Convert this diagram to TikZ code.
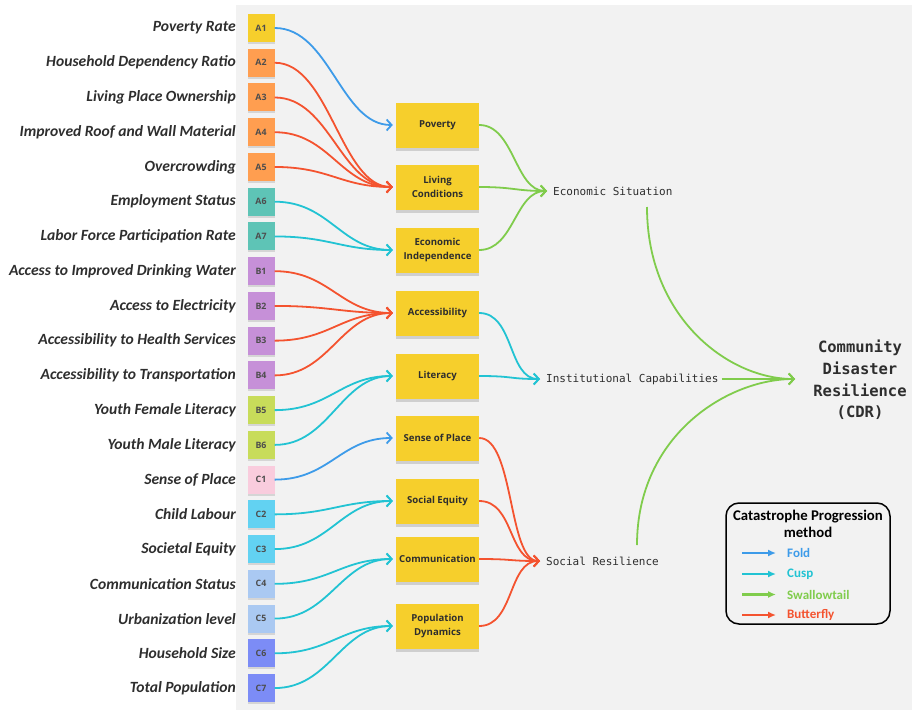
\documentclass[tikz,border=0pt]{standalone}
\usepackage{fontspec}
\setmainfont{Carlito}
\newfontfamily\boxfont{Open Sans}
\newfontfamily\aggfont{DejaVu Sans Mono}
\usetikzlibrary{arrows.meta,shadows,calc}
\definecolor{panel}{HTML}{F2F2F2}
\definecolor{cfold}{HTML}{3D9BE9}
\definecolor{ccusp}{HTML}{22C3D3}
\definecolor{cswal}{HTML}{80CC4C}
\definecolor{cbutt}{HTML}{F4532F}
\definecolor{yel}{HTML}{F6CF2C}
\definecolor{ora}{HTML}{FF9E50}
\definecolor{tea}{HTML}{5EC4B6}
\definecolor{pur}{HTML}{C690D8}
\definecolor{lim}{HTML}{C8DC5A}
\definecolor{pnk}{HTML}{F9CCDD}
\definecolor{cya}{HTML}{62D2F2}
\definecolor{pbl}{HTML}{AAC9F2}
\definecolor{vio}{HTML}{7C8CF6}
\definecolor{txt}{HTML}{2E2E2E}
\begin{document}
\begin{tikzpicture}[x=1pt,y=-1pt,
  lab/.style={anchor=east,inner sep=0pt,font=\fontsize{15.6}{17}\selectfont\bfseries\itshape,text=txt},
  sbox/.style={minimum width=27pt,minimum height=28pt,inner sep=0pt,font=\boxfont\fontsize{8.8}{10}\selectfont\bfseries,text=txt!85,
    drop shadow={shadow xshift=0pt,shadow yshift=-2pt,opacity=.25}},
  mbox/.style={fill=yel,minimum width=83pt,minimum height=45pt,inner sep=1pt,align=center,
    font=\boxfont\fontsize{9.6}{13.5}\selectfont\bfseries,text=txt,
    drop shadow={shadow xshift=0pt,shadow yshift=-3pt,opacity=.3}},
  agg/.style={anchor=west,inner sep=3pt,font=\aggfont\fontsize{11}{13}\selectfont,text=txt},
  link/.style={line width=1.8pt,-{Straight Barb[length=5pt,width=11pt]},shorten >=3pt},
  legarrow/.style={line width=2.4pt,-{Latex[length=8pt,width=7pt]}},
  legtxt/.style={anchor=west,inner sep=0pt,font=\fontsize{13}{15}\selectfont\bfseries}
]
\useasboundingbox (0,0) rectangle (914,710);
\fill[panel] (236,5) rectangle (912,710);

% left items
\foreach \n/\t/\c [count=\i] in {
  a1/Poverty Rate/yel, a2/Household Dependency Ratio/ora, a3/Living Place Ownership/ora,
  a4/Improved Roof and Wall Material/ora, a5/Overcrowding/ora, a6/Employment Status/tea,
  a7/Labor Force Participation Rate/tea, b1/Access to Improved Drinking Water/pur,
  b2/Access to Electricity/pur, b3/Accessibility to Health Services/pur,
  b4/Accessibility to Transportation/pur, b5/Youth Female Literacy/lim,
  b6/Youth Male Literacy/lim, c1/Sense of Place/pnk, c2/Child Labour/cya,
  c3/Societal Equity/cya, c4/Communication Status/pbl, c5/Urbanization level/pbl,
  c6/Household Size/vio, c7/Total Population/vio}{
  \pgfmathsetmacro\yy{28+(\i-1)*34.74}
  \node[lab] (l\n) at (236,\yy) {\t};
  \node[sbox,fill=\c] (\n) at (261,\yy) {\MakeUppercase{\n}};
}

% middle boxes
\node[mbox] (pov) at (437.5,125) {Poverty};
\node[mbox] (liv) at (437.5,187) {Living\\Conditions};
\node[mbox] (eco) at (437.5,250) {Economic\\Independence};
\node[mbox] (acc) at (437.5,313) {Accessibility};
\node[mbox] (lit) at (437.5,376) {Literacy};
\node[mbox] (sop) at (437.5,438) {Sense of Place};
\node[mbox] (seq) at (437.5,501) {Social Equity};
\node[mbox] (com) at (437.5,559) {Communication};
\node[mbox] (pop) at (437.5,626) {Population\\Dynamics};

% aggregators
\node[agg] (es) at (550,191) {Economic Situation};
\node[agg] (ic) at (543,379) {Institutional Capabilities};
\node[agg] (sr) at (543,561) {Social Resilience};
\node[align=center,inner sep=0pt,text=txt,font=\aggfont\fontsize{15.5}{21.7}\selectfont\bfseries] (cdr) at (860,380)
  {Community\\Disaster\\Resilience\\(CDR)};
\coordinate (cdrin) at (798,379);
\coordinate (esout) at (647,207);
\coordinate (srout) at (637,545);

% left -> middle
\def\lk#1#2#3{\draw[link,#1] (#2.east) .. controls +(55,0) and +(-55,0) .. (#3.west);}
\lk{cfold}{a1}{pov}
\lk{cbutt}{a2}{liv}\lk{cbutt}{a3}{liv}\lk{cbutt}{a4}{liv}\lk{cbutt}{a5}{liv}
\lk{ccusp}{a6}{eco}\lk{ccusp}{a7}{eco}
\lk{cbutt}{b1}{acc}\lk{cbutt}{b2}{acc}\lk{cbutt}{b3}{acc}\lk{cbutt}{b4}{acc}
\lk{ccusp}{b5}{lit}\lk{ccusp}{b6}{lit}
\lk{cfold}{c1}{sop}
\lk{ccusp}{c2}{seq}\lk{ccusp}{c3}{seq}
\lk{ccusp}{c4}{com}\lk{ccusp}{c5}{com}
\lk{ccusp}{c6}{pop}\lk{ccusp}{c7}{pop}

% middle -> aggregators
\def\mk#1#2#3{\draw[link,#1] (#2.east) .. controls +(35,0) and +(-35,0) .. (#3.west);}
\mk{cswal}{pov}{es}\mk{cswal}{liv}{es}\mk{cswal}{eco}{es}
\mk{ccusp}{acc}{ic}\mk{ccusp}{lit}{ic}
\mk{cbutt}{sop}{sr}\mk{cbutt}{seq}{sr}\mk{cbutt}{com}{sr}\mk{cbutt}{pop}{sr}

% aggregators -> CDR
\draw[link,cswal] (esout) .. controls +(0,110) and +(-70,0) .. (cdrin);
\draw[link,cswal] (ic.east) -- (cdrin);
\draw[link,cswal] (srout) .. controls +(0,-110) and +(-70,0) .. (cdrin);

% legend
\node[draw=black,line width=1.5pt,rounded corners=13pt,minimum width=164pt,minimum height=121pt,inner sep=0pt] (leg) at (808,563.5) {};
\node[align=center,inner sep=0pt,font=\fontsize{14.8}{17}\selectfont\bfseries,text=black] (legt) at (808,524) {Catastrophe Progression\\method};
\foreach \k/\t/\c/\yy in {f/Fold/cfold/553, u/Cusp/ccusp/574, s/Swallowtail/cswal/594.5, b/Butterfly/cbutt/615}{
  \coordinate (\k0) at (742,\yy);
  \coordinate (\k1) at (776,\yy);
  \draw[legarrow,\c] (\k0) -- (\k1);
  \node[legtxt,text=\c] (\k t) at (787,\yy) {\t};
}
\end{tikzpicture}
\end{document}
